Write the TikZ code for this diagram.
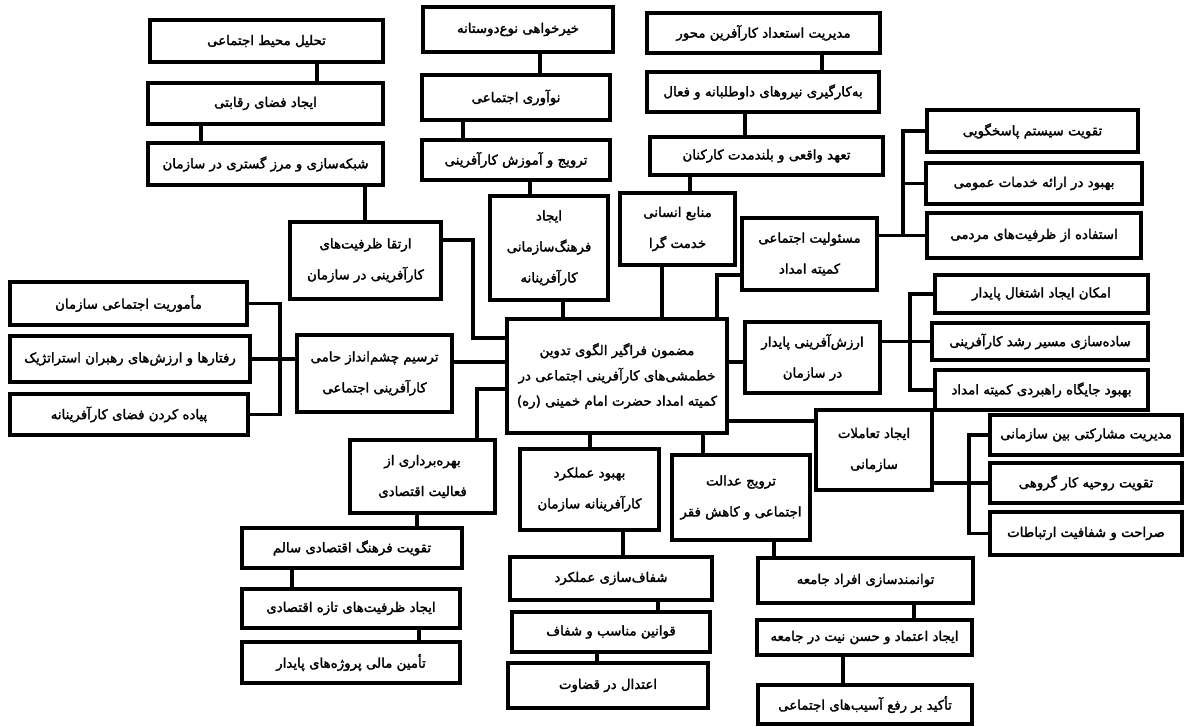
\documentclass[tikz,border=0pt]{standalone}
\usepackage{fontspec}
\usepackage{tikz}
\newfontfamily\arabicfont[Script=Arabic,FakeBold=2]{DejaVu Sans}
\TeXXeTstate=1
\newcommand{\fa}[1]{\beginR #1\endR}

\begin{document}
\begin{tikzpicture}[x=0.025cm, y=-0.025cm,
  thbox/.style={rectangle, draw=black, fill=white, line width=3pt,
                inner sep=0pt, align=center,
                font=\arabicfont\fontsize{9.5}{22}\selectfont},
  link/.style={draw=black, line width=2.5pt, line cap=rect}
]
\useasboundingbox (0,0) rectangle (1190,727);
% boxes: name / left / top / right / bottom / text
\foreach \nm/\xa/\ya/\xb/\yb/\txt in {%
  A1/150/20/383/62/{\fa{تحلیل محیط اجتماعی}},%
  A2/148/83/383/124/{\fa{ایجاد فضای رقابتی}},%
  A3/148/143/383/185/{\fa{شبکه^^^^200cسازی و مرز گستری در سازمان}},%
  A4/290/222/441/299/{\fa{ارتقا ظرفیت^^^^200cهای}\\\fa{کارآفرینی در سازمان}},%
  L/423/7/613/52/{\fa{خیرخواهی نوع^^^^200cدوستانه}},%
  K/422/75/610/120/{\fa{نوآوری اجتماعی}},%
  J/422/140/610/180/{\fa{ترویج و آموزش کارآفرینی}},%
  I/490/196/608/300/{\fa{ایجاد}\\\fa{فرهنگ^^^^200cسازمانی}\\\fa{کارآفرینانه}},%
  H1/647/13/880/53/{\fa{مدیریت استعداد کارآفرین محور}},%
  H2/647/72/879/112/{\fa{به^^^^200cکارگیری نیروهای داوطلبانه و فعال}},%
  H3/650/137/883/175/{\fa{تعهد واقعی و بلندمدت کارکنان}},%
  H4/620/193/735/265/{\fa{منابع انسانی}\\\fa{خدمت گرا}},%
  M/742/218/877/290/{\fa{مسئولیت اجتماعی}\\\fa{کمیته امداد}},%
  M1/927/110/1138/152/{\fa{تقویت سیستم پاسخگویی}},%
  M2/926/163/1142/204/{\fa{بهبود در ارائه خدمات عمومی}},%
  M3/927/213/1141/258/{\fa{استفاده از ظرفیت^^^^200cهای مردمی}},%
  N/745/322/880/393/{\fa{ارزش^^^^200cآفرینی پایدار}\\\fa{در سازمان}},%
  N1/935/275/1148/313/{\fa{امکان ایجاد اشتغال پایدار}},%
  N2/932/323/1148/360/{\fa{ساده^^^^200cسازی مسیر رشد کارآفرینی}},%
  N3/935/370/1148/410/{\fa{بهبود جایگاه راهبردی کمیته امداد}},%
  B/297/335/452/412/{\fa{ترسیم چشم^^^^200cانداز حامی}\\\fa{کارآفرینی اجتماعی}},%
  B1/10/282/247/325/{\fa{مأموریت اجتماعی سازمان}},%
  B2/10/336/250/382/{\fa{رفتارها و ارزش^^^^200cهای رهبران استراتژیک}},%
  B3/10/394/248/435/{\fa{پیاده کردن فضای کارآفرینانه}},%
  C/350/440/495/513/{\fa{بهره^^^^200cبرداری از}\\\fa{فعالیت اقتصادی}},%
  C1/242/528/462/568/{\fa{تقویت فرهنگ اقتصادی سالم}},%
  C2/242/589/460/628/{\fa{ایجاد ظرفیت^^^^200cهای تازه اقتصادی}},%
  C3/242/642/460/683/{\fa{تأمین مالی پروژه^^^^200cهای پایدار}},%
  D/520/449/659/530/{\fa{بهبود عملکرد}\\\fa{کارآفرینانه سازمان}},%
  D1/510/557/712/600/{\fa{شفاف^^^^200cسازی عملکرد}},%
  D2/512/612/710/652/{\fa{قوانین مناسب و شفاف}},%
  D3/508/663/708/708/{\fa{اعتدال در قضاوت}},%
  E/672/455/810/540/{\fa{ترویج عدالت}\\\fa{اجتماعی و کاهش فقر}},%
  E1/758/558/973/603/{\fa{توانمندسازی افراد جامعه}},%
  E2/757/620/972/655/{\fa{ایجاد اعتماد و حسن نیت در جامعه}},%
  E3/758/685/972/724/{\fa{تأکید بر رفع آسیب^^^^200cهای اجتماعی}},%
  F/816/410/932/490/{\fa{ایجاد تعاملات}\\\fa{سازمانی}},%
  G1/990/415/1182/455/{\fa{مدیریت مشارکتی بین سازمانی}},%
  G2/990/463/1182/503/{\fa{تقویت روحیه کار گروهی}},%
  G3/990/512/1182/555/{\fa{صراحت و شفافیت ارتباطات}}%
} {
  \node[thbox, minimum width={(\xb-\xa)*0.025cm}, minimum height={(\yb-\ya)*0.025cm}]
    (\nm) at ({(\xa+\xb)/2},{(\ya+\yb)/2}) {\txt};
}
% central theme
\node[thbox, font=\arabicfont\fontsize{9.5}{18}\selectfont,
      minimum width=5.5cm, minimum height=2.85cm] (C0) at (617,376)
  {\fa{مضمون فراگیر الگوی تدوین}\\\fa{خطمشی^^^^200cهای کارآفرینی اجتماعی در}\\\fa{کمیته امداد حضرت امام خمینی (ره)}};

% straight links
\foreach \up/\dn/\xx in {A1/A2/317, A2/A3/201, A3/A4/365, L/K/540, K/J/463,
    J/I/530, I/C0/563, H1/H2/822, H2/H3/745, H3/H4/690, H4/C0/662,
    C0/D/590, D/D1/623, D1/D2/658, D2/D3/597, C0/E/703, E/E1/774,
    E1/E2/914, E2/E3/843, C/C1/417, C1/C2/292, C2/C3/419} {
  \draw[link] (\up.south -| \xx,0) -- (\dn.north -| \xx,0);
}
\draw[link] (A4.east |- 0,240) -| (473,338) -- (C0.west |- 0,338);
\draw[link] (C0.west |- 0,389) -| (C.north -| 477,0);
\draw[link] (M.west |- 0,275) -| (C0.north -| 717,0);
\draw[link] (B.east |- 0,362) -- (C0.west |- 0,362);
\draw[link] (C0.east |- 0,362) -- (N.west |- 0,362);
\draw[link] (C0.east |- 0,421) -- (F.west |- 0,421);

% brackets
\coordinate (bj) at (280,359);
\draw[link] (B.west |- bj) -- (bj);
\foreach \k in {B1,B2,B3} \draw[link] (bj) |- (\k.east);
\coordinate (mj) at (903,235.5);
\draw[link] (M.east |- mj) -- (mj);
\foreach \k in {M1,M2,M3} \draw[link] (mj) |- (\k.west);
\coordinate (nj) at (910,341.5);
\draw[link] (N.east |- nj) -- (nj);
\foreach \k in {N1,N2,N3} \draw[link] (nj) |- (\k.west);
\coordinate (gj) at (969,483);
\draw[link] (F.east |- gj) -- (gj);
\foreach \k in {G1,G2,G3} \draw[link] (gj) |- (\k.west);
\end{tikzpicture}
\end{document}
